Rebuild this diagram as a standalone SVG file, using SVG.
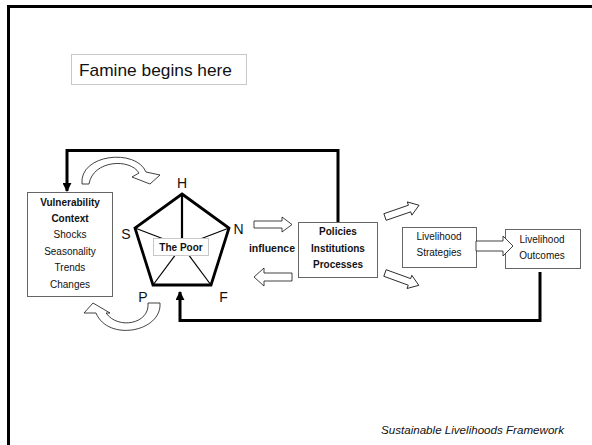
<svg xmlns="http://www.w3.org/2000/svg" width="592" height="445" viewBox="0 0 592 445">
<style>
text{font-family:"Liberation Sans",Arial,sans-serif;fill:#111}
.box{fill:#fff;stroke:#666;stroke-width:1}
.lbox{fill:#fff;stroke:#c8c8c8;stroke-width:1}
.t{font-size:10px;text-anchor:middle}
.b{font-weight:bold}
.v{font-size:14px;text-anchor:middle}
.hol{fill:#fff;stroke:#111;stroke-width:0.8;stroke-linejoin:miter}
.con{fill:none;stroke:#000;stroke-width:3}
</style>
<defs>
<marker id="ah" viewBox="0 0 10 10" refX="9" refY="5" markerWidth="3" markerHeight="3" orient="auto" markerUnits="strokeWidth">
<path d="M0,0 L10,5 L0,10 Z" fill="#000"/>
</marker>
</defs>
<rect x="0" y="0" width="592" height="445" fill="#fff"/>
<rect x="8.5" y="6.5" width="620" height="480" fill="none" stroke="#000" stroke-width="3"/>

<g id="famine">
<rect class="lbox" x="71.5" y="54.5" width="175" height="30"/>
<text x="79" y="76" font-size="17" textLength="153" lengthAdjust="spacingAndGlyphs">Famine begins here</text>
</g>

<g id="connectors">
<polyline class="con" points="338,222 338,150.5 67,150.5 67,191" marker-end="url(#ah)"/>
<polyline class="con" points="540,272 540,320.5 180,320.5 180,292" marker-end="url(#ah)"/>
<path class="hol" d="M82,184 C79,154 136,148 146,172 L160,175 L150,184 L132,177 L139,173 C130,158 93,160 89,184 Z"/>
<path class="hol" d="M160,303 C162,332 108,342 96,313 L84,313 L93,303 L110,313 L106,313 C118,330 150,324 148,303 Z"/>
<path class="hol" d="M254,221 L282,221 L282,217 L292,224.5 L282,232 L282,228 L254,228 Z"/>
<path class="hol" d="M292,273 L264,273 L264,268 L254,277 L264,286 L264,281 L292,281 Z"/>
<path class="hol" transform="translate(385,217) rotate(-19)" d="M0,-3.5 L26,-3.5 L26,-7 L36,0 L26,7 L26,3.5 L0,3.5 Z"/>
<path class="hol" transform="translate(385,273) rotate(20)" d="M0,-3.5 L26,-3.5 L26,-7 L36,0 L26,7 L26,3.5 L0,3.5 Z"/>
</g>

<g id="vulnerability">
<rect class="box" x="27.5" y="192.5" width="85" height="104"/>
<text class="t b" x="70" y="206">Vulnerability</text>
<text class="t b" x="70" y="222">Context</text>
<text class="t" x="70" y="238">Shocks</text>
<text class="t" x="70" y="255">Seasonality</text>
<text class="t" x="70" y="271">Trends</text>
<text class="t" x="70" y="288">Changes</text>
</g>

<g id="pentagon">
<g stroke="#000" stroke-width="1.2">
<line x1="135" y1="228" x2="182" y2="246"/>
<line x1="229" y1="228" x2="182" y2="246"/>
<line x1="153" y1="285" x2="182" y2="246"/>
<line x1="211" y1="285" x2="182" y2="246"/>
</g>
<line x1="182" y1="194" x2="182" y2="246" stroke="#000" stroke-width="2.2"/>
<polygon points="182,194 229,228 211,285 153,285 135,228" fill="none" stroke="#000" stroke-width="2.8" stroke-linejoin="miter"/>
<rect class="lbox" x="153.5" y="238.5" width="55" height="17"/>
<text class="t b" x="181" y="251">The Poor</text>
<text class="v" x="182" y="188">H</text>
<text class="v" x="126" y="239">S</text>
<text class="v" x="238.5" y="234">N</text>
<text class="v" x="143" y="302">P</text>
<text class="v" x="223.5" y="302">F</text>
</g>

<g id="influence">
<text class="b" x="272" y="252" font-size="10.5" text-anchor="middle">influence</text>
</g>

<g id="policies">
<rect class="box" x="298.5" y="222.5" width="79" height="55"/>
<text class="t b" x="338" y="235">Policies</text>
<text class="t b" x="338" y="252">Institutions</text>
<text class="t b" x="338" y="268">Processes</text>
</g>

<g id="strategies">
<rect class="box" x="402.5" y="227.5" width="74" height="40"/>
<text class="t" x="439" y="240">Livelihood</text>
<text class="t" x="439" y="256">Strategies</text>
</g>

<g id="outcomes">
<rect class="box" x="505.5" y="229.5" width="75" height="39"/>
<text class="t" x="542" y="243">Livelihood</text>
<text class="t" x="542" y="259">Outcomes</text>
</g>

<path class="hol" d="M476,241 L503,241 L503,236 L513,246 L503,256 L503,251 L476,251 Z"/>

<text x="381" y="434" font-size="11" font-style="italic" textLength="183" lengthAdjust="spacingAndGlyphs">Sustainable Livelihoods Framework</text>
</svg>
